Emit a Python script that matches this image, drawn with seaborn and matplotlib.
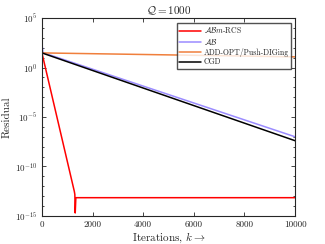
import numpy as np
import pandas as pd
import matplotlib
matplotlib.use("Agg")
import matplotlib.pyplot as plt
from matplotlib import ticker
import seaborn as sns

# data (residual vs iterations)
k_rcs = [0, 1280, 1300, 1315, 1340, 10000]
res_rcs = [30, 3e-13, 1.5e-13, 2e-15, 7e-14, 7e-14]

k_ab = [0, 40, 10000]
res_ab = [280, 32, 1e-7]

k_add = [0, 10000]
res_add = [30, 12]

k_cgd = [0, 10000]
res_cgd = [30, 4e-8]

labels = [r"$\mathcal{AB}m$-RCS", r"$\mathcal{AB}$", "ADD-OPT/Push-DIGing", "CGD"]
colors = ["#ff0000", "#9b8cff", "#f07f3c", "#000000"]

sns.set_style("ticks")
plt.rcParams["font.family"] = ["cmr10"]
plt.rcParams["mathtext.fontset"] = "cm"
plt.rcParams["axes.formatter.use_mathtext"] = True
plt.rcParams["axes.unicode_minus"] = False

fig = plt.figure(figsize=(3.25, 2.44), dpi=100)
ax = fig.add_axes([0.129, 0.115, 0.779, 0.811])

series = [(k_rcs, res_rcs), (k_ab, res_ab), (k_add, res_add), (k_cgd, res_cgd)]
for (kk, rr), lab, c in zip(series, labels, colors):
    sns.lineplot(x=kk, y=rr, ax=ax, color=c, label=lab, linewidth=1.1, sort=False)

ax.set_yscale("log")
ax.set_xlim(0, 10000)
ax.set_ylim(1e-15, 1e5)
ax.set_xticks([0, 2000, 4000, 6000, 8000, 10000])
ax.set_yticks([1e-15, 1e-10, 1e-5, 1e0, 1e5])
ax.yaxis.set_minor_locator(ticker.FixedLocator(10.0 ** np.arange(-15, 6)))
ax.yaxis.set_minor_formatter(ticker.NullFormatter())
ax.xaxis.set_major_formatter(ticker.FormatStrFormatter("%d"))
ax.tick_params(which="both", direction="in", top=True, right=True,
               labelsize=6.5, width=0.6, colors="#262626")
ax.tick_params(which="major", length=3)
ax.tick_params(which="minor", length=1.6)
for s in ax.spines.values():
    s.set_linewidth(0.8)
    s.set_color("#262626")

ax.set_xlabel(r"Iterations, $k\rightarrow$", fontsize=8, labelpad=1)
ax.set_ylabel("Residual", fontsize=8, labelpad=2)
ax.set_title(r"$\mathcal{Q}=1000$", fontsize=8, pad=3)

leg = ax.legend(loc="upper right", bbox_to_anchor=(0.985, 0.975), fontsize=5.6,
                frameon=True, fancybox=False, edgecolor="#262626",
                borderaxespad=0.0, handlelength=2.8,
                labelspacing=0.15, borderpad=0.3, handletextpad=0.4)
leg.get_frame().set_linewidth(1.0)

fig.savefig("out.png", dpi=100)
